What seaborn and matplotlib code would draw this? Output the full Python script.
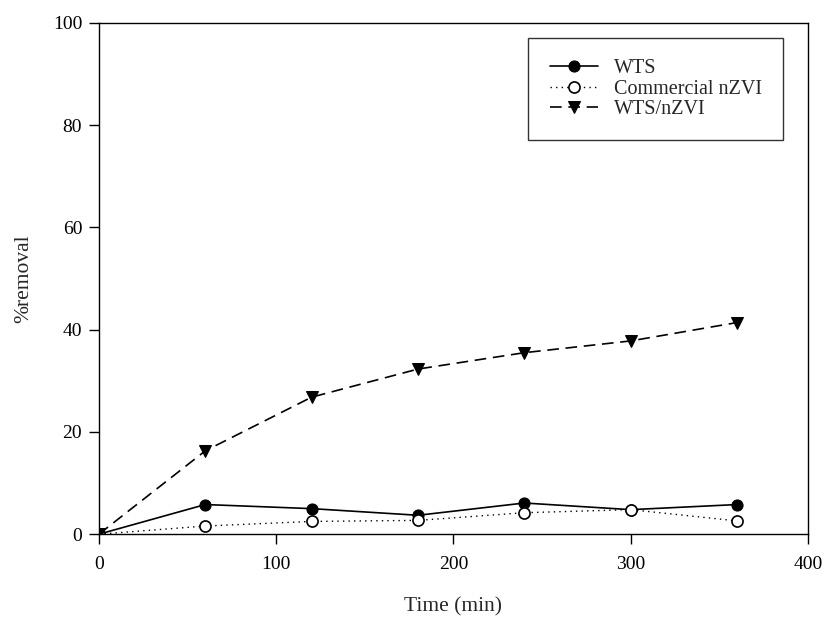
import pandas as pd
import matplotlib
matplotlib.use("Agg")
import matplotlib.pyplot as plt
import seaborn as sns

# Data
time_min = [0, 60, 120, 180, 240, 300, 360]
wts = [0, 5.8, 5.0, 3.7, 6.1, 4.8, 5.8]
commercial_nzvi = [0, 1.6, 2.5, 2.7, 4.2, 4.8, 2.6]
wts_nzvi = [0, 16.3, 26.8, 32.3, 35.5, 37.8, 41.4]

sns.set_style("ticks")
plt.rcParams['font.family'] = ['Liberation Serif', 'DejaVu Serif']
plt.rcParams['xtick.direction'] = 'out'
plt.rcParams['ytick.direction'] = 'out'

fig = plt.figure(figsize=(8.24, 6.19), dpi=100)
ax = fig.add_axes([0.120, 0.137, 0.8606, 0.826])

sns.lineplot(x=time_min, y=wts, ax=ax, color='black', linewidth=1.2,
             linestyle='-', marker='o', markersize=8,
             markerfacecolor='black', markeredgecolor='black',
             label='WTS')
sns.lineplot(x=time_min, y=commercial_nzvi, ax=ax, color='black',
             linewidth=1.0, linestyle=(0, (1, 3)), marker='o',
             markersize=8, markerfacecolor='white',
             markeredgecolor='black', markeredgewidth=1.2,
             label='Commercial nZVI')
sns.lineplot(x=time_min, y=wts_nzvi, ax=ax, color='black', linewidth=1.2,
             linestyle=(0, (7, 4)), marker='v', markersize=9,
             markerfacecolor='black', markeredgecolor='black',
             label='WTS/nZVI')

ax.set_xlim(0, 400)
ax.set_ylim(0, 100)
ax.set_xticks([0, 100, 200, 300, 400])
ax.set_yticks([0, 20, 40, 60, 80, 100])
ax.tick_params(labelsize=14, length=7, width=1, color='black',
               labelcolor='black')
ax.tick_params(axis='x', pad=9)
ax.tick_params(axis='y', pad=5)
for spine in ax.spines.values():
    spine.set_visible(True)
    spine.set_color('black')
    spine.set_linewidth(1.0)

ax.set_xlabel("Time (min)", fontsize=15.5, labelpad=17)
ax.set_ylabel("%removal", fontsize=15.5, labelpad=14)

leg = ax.legend(loc='upper right', bbox_to_anchor=(0.965, 0.97),
                fontsize=14.5, frameon=True, fancybox=False,
                edgecolor='black', handlelength=2.4, labelspacing=0.05,
                borderpad=1.05, handletextpad=0.8, borderaxespad=0)
leg.get_frame().set_linewidth(1.0)

fig.savefig("out.png", dpi=100)
